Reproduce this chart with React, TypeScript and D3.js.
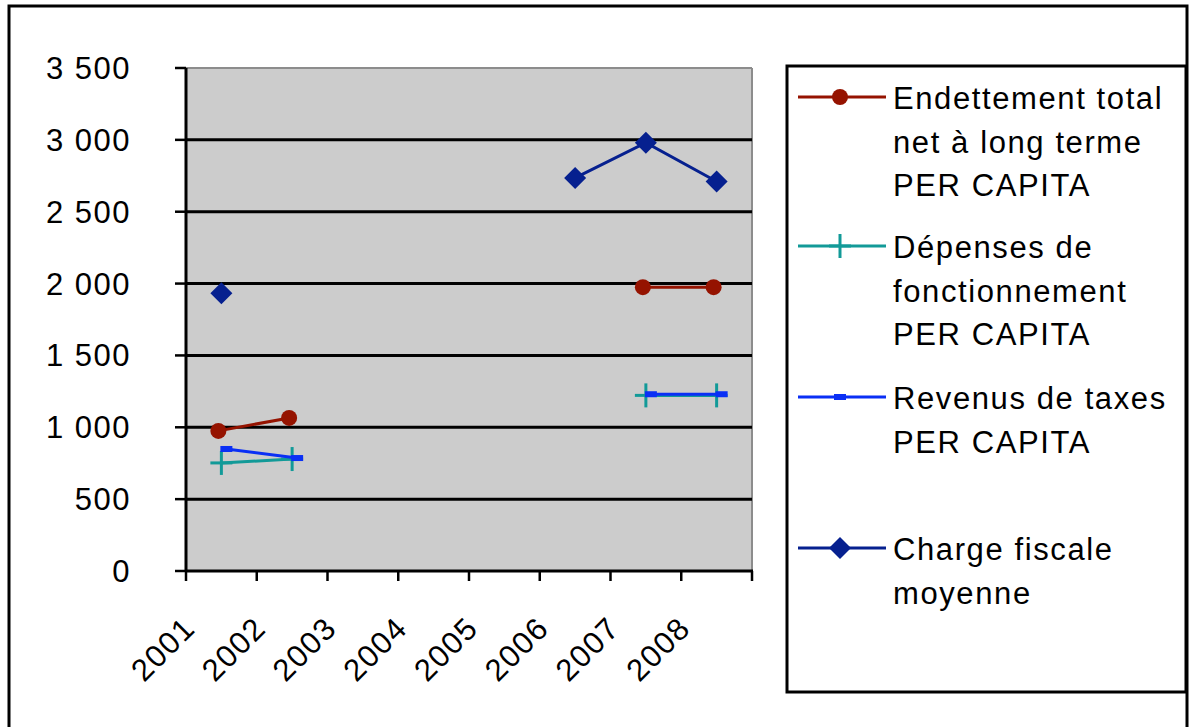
import React from "react";
import * as d3 from "d3";

const years = ["2001", "2002", "2003", "2004", "2005", "2006", "2007", "2008"];
const endettement: (number | null)[] = [975, 1065, null, null, null, null, 1975, 1975];
const depenses: (number | null)[] = [752, 779, null, null, null, null, 1222, 1222];
const revenus: (number | null)[] = [849, 786, null, null, null, null, 1230, 1230];
const charge: (number | null)[] = [1932, null, null, null, null, 2735, 2980, 2710];
const yTicks = [0, 500, 1000, 1500, 2000, 2500, 3000, 3500];

const legendLines = [
  ["Endettement total", "net à long terme", "PER CAPITA"],
  ["Dépenses de", "fonctionnement", "PER CAPITA"],
  ["Revenus de taxes", "PER CAPITA"],
  ["Charge fiscale", "moyenne"],
];

const C_END = "#951300";
const C_DEP = "#129A98";
const C_REV = "#0A2FF5";
const C_CHG = "#06208F";

const FONT = "'Liberation Sans', Arial, sans-serif";

function fmt(v: number) {
  const s = String(v);
  if (s.length > 3) return s.slice(0, s.length - 3) + " " + s.slice(s.length - 3);
  return s;
}

export default function App() {
  const W = 1190, H = 727;
  const x = d3.scaleBand<string>().domain(years).range([186, 752]).padding(0);
  const y = d3.scaleLinear().domain([0, 3500]).range([571, 68]);
  const cx = (i: number) => (x(years[i]) as number) + x.bandwidth() / 2;

  const mkLine = (vals: (number | null)[], dx: number) =>
    d3
      .line<number | null>()
      .defined((d) => d !== null)
      .x((_, i) => cx(i) + dx)
      .y((d) => y(d as number))(vals) || "";

  const pts = (vals: (number | null)[]) =>
    vals.map((v, i) => ({ v, i })).filter((p) => p.v !== null) as { v: number; i: number }[];

  const circle = (px: number, py: number, k: string) => (
    <circle key={k} cx={px} cy={py} r={8} fill={C_END} />
  );
  const plus = (px: number, py: number, k: string) => (
    <g key={k} stroke={C_DEP} strokeWidth={3}>
      <line x1={px - 11} x2={px + 11} y1={py} y2={py} />
      <line x1={px} x2={px} y1={py - 12} y2={py + 12} />
    </g>
  );
  const dash = (px: number, py: number, k: string) => (
    <rect key={k} x={px - 6} y={py - 3} width={12} height={6} fill={C_REV} />
  );
  const diamond = (px: number, py: number, k: string) => (
    <path key={k} d={`M${px},${py - 11}L${px + 11},${py}L${px},${py + 11}L${px - 11},${py}Z`} fill={C_CHG} />
  );

  const series = [
    { vals: endettement, color: C_END, dx: -3, marker: circle, w: 3 },
    { vals: depenses, color: C_DEP, dx: 0, marker: plus, w: 3 },
    { vals: revenus, color: C_REV, dx: 5, marker: dash, w: 3 },
    { vals: charge, color: C_CHG, dx: 0, marker: diamond, w: 3 },
  ];

  const legendY = [97, 246, 397, 548];
  const lineGap = 43.5;

  return (
    <div style={{ position: "absolute", left: 0, top: 0 }}>
      <svg width={W} height={H} style={{ display: "block", fontFamily: FONT }}>
        <rect x={0} y={0} width={W} height={H} fill="#fff" />
        <rect x={9} y={6} width={1178} height={760} fill="#fff" stroke="#000" strokeWidth={3} />

        {/* plot area */}
        <rect x={186} y={68} width={566} height={503} fill="#CCCCCC" />
        <line x1={186} x2={752} y1={68} y2={68} stroke="#8c8c8c" strokeWidth={2} />
        <line x1={752} x2={752} y1={68} y2={571} stroke="#8c8c8c" strokeWidth={2} />
        {yTicks.filter((t) => t > 0 && t < 3500).map((t) => (
          <line key={t} x1={186} x2={752} y1={y(t)} y2={y(t)} stroke="#000" strokeWidth={3} />
        ))}

        {/* axes */}
        <line x1={186} x2={186} y1={68} y2={572} stroke="#000" strokeWidth={3} />
        <line x1={185} x2={753} y1={571} y2={571} stroke="#000" strokeWidth={3} />
        {yTicks.map((t) => (
          <g key={t}>
            <line x1={175} x2={186} y1={y(t)} y2={y(t)} stroke="#000" strokeWidth={2.5} />
            <text x={131} y={y(t) + 11} textAnchor="end" fontSize={31} letterSpacing={1.5}>
              {fmt(t)}
            </text>
          </g>
        ))}
        {[...years.map((yr) => x(yr) as number), 752].map((px, i) => (
          <line key={i} x1={px} x2={px} y1={571} y2={581} stroke="#000" strokeWidth={2.5} />
        ))}
        {years.map((yr) => (
          <text
            key={yr}
            transform={`translate(${(x(yr) as number) + 11},${630}) rotate(-45)`}
            textAnchor="end"
            fontSize={31}
            letterSpacing={1.5}
          >
            {yr}
          </text>
        ))}

        {/* series */}
        {series.map((s, si) => (
          <g key={si}>
            <path d={mkLine(s.vals, s.dx)} fill="none" stroke={s.color} strokeWidth={s.w} />
            {pts(s.vals).map((p) => s.marker(cx(p.i) + s.dx, y(p.v), `${si}-${p.i}`))}
          </g>
        ))}

        {/* legend */}
        <rect x={787} y={66} width={399} height={626} fill="#fff" stroke="#000" strokeWidth={3} />
        {series.map((s, si) => (
          <g key={si}>
            <line x1={798} x2={886} y1={legendY[si]} y2={legendY[si]} stroke={s.color} strokeWidth={s.w} />
            {s.marker(840, legendY[si], `l${si}`)}
            {legendLines[si].map((ln, li) => (
              <text key={li} x={893} y={legendY[si] + 12 + li * lineGap} fontSize={31} letterSpacing={1.6}>
                {ln}
              </text>
            ))}
          </g>
        ))}
      </svg>
    </div>
  );
}
